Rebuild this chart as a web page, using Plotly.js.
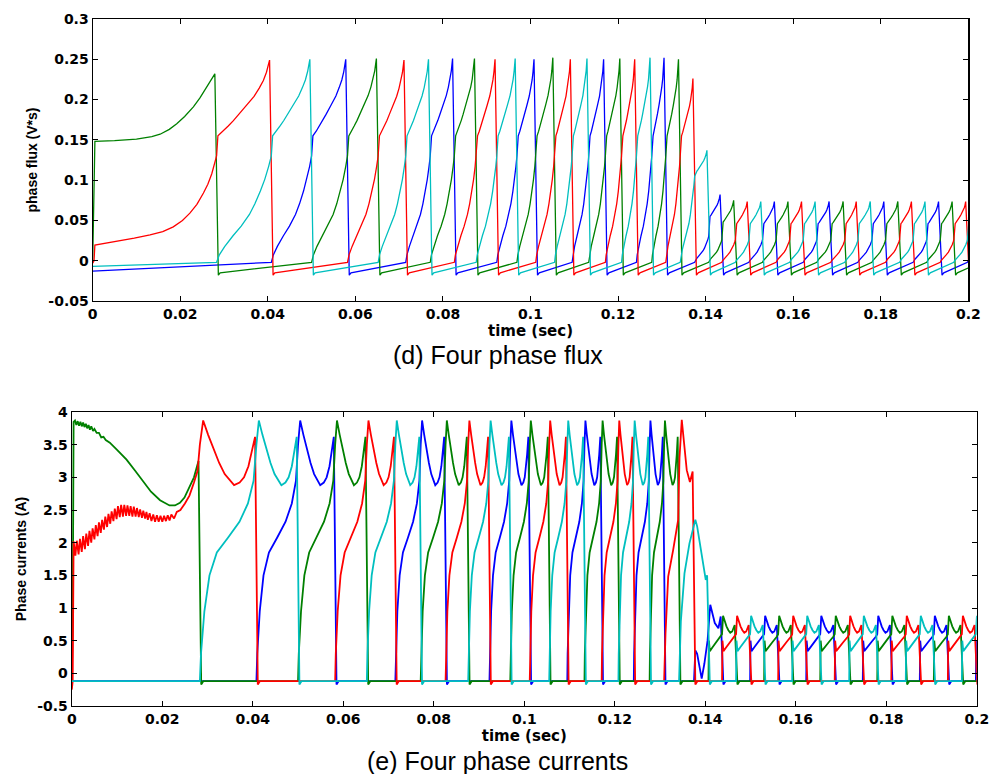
<!DOCTYPE html>
<html><head><meta charset="utf-8">
<script src="https://cdn.plot.ly/plotly-3.0.1.min.js"></script>
<style>html,body{margin:0;padding:0;background:#fff}#chart{width:989px;height:774px}</style>
</head><body><div id="chart"></div>
<script>
// ================= DATA =================
const phaseNames = ['Phase 1', 'Phase 2', 'Phase 3', 'Phase 4'];

// commutation instants (s): each one is the moment a phase is switched off
const eventTimes = [0.0283, 0.0408, 0.0500, 0.0582, 0.0652, 0.0715, 0.0771, 0.0826, 0.0876, 0.0923,
  0.0969, 0.1012, 0.1055, 0.1095, 0.1133, 0.1171, 0.1208, 0.1242, 0.1277, 0.1309,
  0.1342, 0.1375, 0.1407, 0.1437, 0.1468, 0.1499, 0.1530, 0.1561, 0.1592, 0.1623,
  0.1654, 0.1686, 0.1718, 0.1748, 0.1780, 0.1811, 0.1843, 0.1874, 0.1905, 0.1936,
  0.1967, 0.1998, 0.2029, 0.2060];
// which phase is switched off at each instant (0 = phase 1 ... 3 = phase 4)
const eventPhase = [1, 2, 3, 0, 1, 2, 3, 0, 1, 2, 3, 0, 1, 2, 3, 0, 1, 2, 3, 0,
  1, 2, 3, 0, 1, 2, 3, 0, 1, 2, 3, 0, 1, 2, 3, 0, 1, 2, 3, 0, 1, 2, 3, 0];
// peak flux (V*s) reached just before each switch-off
const fluxPeak = [0.232, 0.249, 0.250, 0.250, 0.251, 0.249, 0.250, 0.251, 0.251, 0.250,
  0.251, 0.250, 0.252, 0.250, 0.251, 0.250, 0.251, 0.250, 0.252, 0.252,
  0.250, 0.226, 0.137, 0.082, 0.075, 0.0735, 0.0735, 0.0735, 0.0735, 0.0735,
  0.0735, 0.0735, 0.0735, 0.0735, 0.0735, 0.0735, 0.0735, 0.0735, 0.0735, 0.0735,
  0.0735, 0.0735, 0.0735, 0.0735];
// flux at the mid-conduction commutation, just before and just after the step
const fluxKnee = [null, 0.13, 0.13, 0.13, 0.13, 0.13, 0.13, 0.13, 0.13, 0.13,
  0.13, 0.13, 0.13, 0.13, 0.13, 0.13, 0.13, 0.13, 0.13, 0.13,
  0.13, 0.13, 0.105, 0.03, 0.026, 0.026, 0.026, 0.026, 0.026, 0.026,
  0.026, 0.026, 0.026, 0.026, 0.026, 0.026, 0.026, 0.026, 0.026, 0.026,
  0.026, 0.026, 0.026, 0.026];
const fluxJump = [null, 0.155, 0.155, 0.155, 0.155, 0.155, 0.155, 0.155, 0.155, 0.155,
  0.155, 0.155, 0.155, 0.155, 0.155, 0.155, 0.155, 0.155, 0.155, 0.155,
  0.155, 0.155, 0.11, 0.055, 0.048, 0.046, 0.046, 0.046, 0.046, 0.046,
  0.046, 0.046, 0.046, 0.046, 0.046, 0.046, 0.046, 0.046, 0.046, 0.046,
  0.046, 0.046, 0.046, 0.046];
// current pulse type for each conduction interval
const currentShape = ['start', 'start', 'big', 'big', 'big', 'big', 'big', 'big', 'big', 'big',
  'big', 'big', 'big', 'big', 'big', 'big', 'big', 'big', 'big', 'big',
  'big', 'custom', 'custom', 'custom', 'small', 'small', 'small', 'small', 'small', 'small',
  'small', 'small', 'small', 'small', 'small', 'small', 'small', 'small', 'small', 'small',
  'small', 'small', 'small', 'small'];

// measured pulse profiles: [fraction of interval, value]
const fluxRiseShape = [[0, 0], [0.05, 0.07], [0.15, 0.15], [0.3, 0.25], [0.45, 0.34], [0.6, 0.45], [0.7, 0.55],
  [0.8, 0.67], [0.88, 0.78], [0.95, 0.9], [1, 1]];
const fluxTopShape = [[0, 0], [0.1, 0.06], [0.2, 0.13], [0.3, 0.2], [0.4, 0.28], [0.55, 0.4], [0.7, 0.52],
  [0.8, 0.63], [0.88, 0.73], [0.94, 0.84], [1, 1]];
const currentRiseBig = [[0, -0.12], [0.02, 0.3], [0.08, 0.95], [0.17, 1.5], [0.3, 1.85], [0.5, 2.08], [0.7, 2.32],
  [0.85, 2.6], [0.95, 2.95], [1, 3.5]];
const currentTopBig = [[0, 3.5], [0.06, 3.87], [0.15, 3.65], [0.25, 3.42], [0.35, 3.22], [0.45, 3.05], [0.62, 2.88],
  [0.72, 2.92], [0.8, 3.0], [0.88, 3.17], [0.93, 3.35], [1, 3.62]];
const currentRiseSmall = [[0, -0.12], [0.03, 0.5], [0.1, 0.34], [0.3, 0.4], [0.6, 0.48], [0.9, 0.56], [1, 0.6]];
const currentTopSmall = [[0, 0.6], [0.08, 0.88], [0.2, 0.79], [0.35, 0.72], [0.5, 0.66], [0.65, 0.62], [0.8, 0.64],
  [0.9, 0.68], [1, 0.74]];

// start-up transients [t, value]
const greenStartFlux = [[0, 0], [0.0002, 0.08], [0.0005, 0.148], [0.005, 0.149], [0.01, 0.151], [0.0135, 0.154],
  [0.0154, 0.157], [0.0175, 0.163], [0.0192, 0.17], [0.021, 0.179], [0.023, 0.191], [0.0245, 0.202],
  [0.0256, 0.212], [0.0268, 0.222], [0.0279, 0.232]];
const redStartFlux = [[0, -0.003], [0.0003, 0.0], [0.0005, 0.0195], [0.0055, 0.024], [0.0095, 0.028],
  [0.0131, 0.032], [0.016, 0.036], [0.0184, 0.042], [0.0205, 0.05], [0.0222, 0.059], [0.0238, 0.07],
  [0.0253, 0.084], [0.0263, 0.095], [0.0272, 0.108], [0.0278, 0.12], [0.0283, 0.13]];
const startFluxOther = [-0.013, null, null, -0.007];   // phase 1 and phase 4 at t = 0
const greenStartCurrent = [[0, -0.12], [0.0002, 0.8], [0.0004, 3.85], [0.0007, 3.87], [0.001, 3.8], [0.0013, 3.86],
  [0.0016, 3.79], [0.0019, 3.85], [0.0022, 3.78], [0.0025, 3.84], [0.0028, 3.77], [0.0031, 3.82], [0.0034, 3.75],
  [0.0037, 3.8], [0.004, 3.73], [0.0043, 3.78], [0.0047, 3.71], [0.005, 3.74], [0.0055, 3.68], [0.006, 3.68],
  [0.0065, 3.61], [0.007, 3.62], [0.0075, 3.57], [0.0084, 3.53], [0.01, 3.42], [0.0121, 3.27], [0.014, 3.1],
  [0.0158, 2.93], [0.0175, 2.78], [0.0195, 2.65], [0.0216, 2.57], [0.0228, 2.57], [0.0239, 2.61],
  [0.0249, 2.69], [0.0257, 2.8], [0.027, 3.0], [0.0276, 3.15], [0.028, 3.25]];
const redStartCurrent = [[0, -0.25], [0.0002, -0.12], [0.0004, 2.02], [0.0008, 1.8], [0.0011, 2.03], [0.0015, 1.82],
  [0.0018, 2.06], [0.0022, 1.86], [0.0025, 2.1], [0.0029, 1.9], [0.0032, 2.14], [0.0036, 1.95], [0.0039, 2.18],
  [0.0043, 2.0], [0.0046, 2.22], [0.005, 2.05], [0.0053, 2.27], [0.0057, 2.1], [0.006, 2.31], [0.0064, 2.15],
  [0.0067, 2.35], [0.0071, 2.2], [0.0074, 2.4], [0.0078, 2.24], [0.0081, 2.44], [0.0085, 2.29], [0.0088, 2.48],
  [0.0092, 2.33], [0.0095, 2.52], [0.0099, 2.36], [0.0102, 2.56], [0.0106, 2.39], [0.0109, 2.58], [0.0113, 2.4],
  [0.0116, 2.58], [0.012, 2.41], [0.0123, 2.57], [0.0127, 2.41], [0.013, 2.56], [0.0134, 2.4], [0.0137, 2.55],
  [0.0141, 2.4], [0.0144, 2.53], [0.0148, 2.39], [0.0151, 2.51], [0.0155, 2.38], [0.0158, 2.49], [0.0162, 2.37],
  [0.0165, 2.47], [0.0168, 2.35], [0.0172, 2.45], [0.0176, 2.33], [0.018, 2.43], [0.0184, 2.32], [0.0188, 2.42],
  [0.0192, 2.32], [0.0196, 2.41], [0.02, 2.32], [0.0204, 2.41], [0.0208, 2.33], [0.0212, 2.42], [0.0216, 2.34],
  [0.022, 2.43], [0.0226, 2.37], [0.0232, 2.47], [0.024, 2.5], [0.025, 2.6], [0.026, 2.72], [0.027, 2.92],
  [0.0278, 3.1], [0.0283, 3.5]];
// irregular pulses while the operating point changes (t, A)
const customCurrent = {
  21: [[0.1309, -0.12], [0.1312, 0.6], [0.1318, 1.48], [0.1329, 1.89], [0.134, 2.35], [0.1343, 3.3], [0.1348, 3.88],
       [0.1359, 3.11], [0.1366, 2.93], [0.1372, 3.09]],
  22: [[0.1342, -0.12], [0.1346, 0.8], [0.1354, 1.53], [0.1365, 1.99], [0.1373, 2.19], [0.1378, 2.35], [0.1382, 2.25],
       [0.1391, 1.89], [0.1401, 1.43], [0.1404, 1.5]],
  23: [[0.1375, -0.12], [0.1378, 0.35], [0.1382, 0.3], [0.1392, -0.08], [0.1398, 0.15], [0.1405, 0.5], [0.1408, 0.75],
       [0.1411, 1.05], [0.1421, 0.77], [0.1429, 0.69], [0.1434, 0.87]]
};
const fluxOffLevels = [-0.018, -0.015, -0.002];   // just after switch-off, settled, before next turn-on
const currentOffLevels = [-0.17, -0.12];

// axis ticks
const timeTicks = [0, 0.02, 0.04, 0.06, 0.08, 0.1, 0.12, 0.14, 0.16, 0.18, 0.2];
const timeTickText = ['0', '0.02', '0.04', '0.06', '0.08', '0.1', '0.12', '0.14', '0.16', '0.18', '0.2'];
const fluxTicks = [-0.05, 0, 0.05, 0.1, 0.15, 0.2, 0.25, 0.3];
const fluxTickText = ['-0.05', '0', '0.05', '0.1', '0.15', '0.2', '0.25', '0.3'];
const currentTicks = [-0.5, 0, 0.5, 1, 1.5, 2, 2.5, 3, 3.5, 4];
const currentTickText = ['-0.5', '0', '0.5', '1', '1.5', '2', '2.5', '3', '3.5', '4'];

// ================= BUILD SERIES =================
const E = eventTimes;
const dd = 0.0004, dc = 0.0003;

function buildPhase(p) {
  const fx = [], fy = [], cx = [], cy = [];
  const pf = (t, v) => { fx.push(t); fy.push(v); };
  const pc = (t, v) => { cx.push(t); cy.push(v); };
  const idx = [];
  for (let i = 0; i < E.length; i++) if (eventPhase[i] === p) idx.push(i);
  const first = idx[0];
  if (first >= 2) { pf(0, startFluxOther[p]); pc(0, currentOffLevels[1]); }
  for (const n of idx) {
    // ---- flux conduction ----
    if (n === 0) {
      greenStartFlux.forEach(q => pf(q[0], q[1]));
    } else {
      if (n === 1) {
        redStartFlux.forEach(q => pf(q[0], q[1]));
      } else {
        const a = E[n - 2], b = E[n - 1], k = fluxKnee[n];
        fluxRiseShape.forEach(q => pf(a + q[0] * (b - a), fluxOffLevels[2] + q[1] * (k - fluxOffLevels[2])));
      }
      const b0 = E[n - 1] + 0.0003, b1 = E[n] - dd, j = fluxJump[n], pk = fluxPeak[n];
      fluxTopShape.forEach(q => pf(b0 + q[0] * (b1 - b0), j + q[1] * (pk - j)));
    }
    // ---- current conduction ----
    const cs = currentShape[n];
    if (n === 0) {
      greenStartCurrent.forEach(q => pc(q[0], q[1]));
    } else if (cs === 'custom') {
      customCurrent[n].forEach(q => pc(q[0], q[1]));
    } else {
      const rise = cs === 'small' ? currentRiseSmall : currentRiseBig;
      const top = cs === 'small' ? currentTopSmall : currentTopBig;
      if (n === 1) {
        redStartCurrent.forEach(q => pc(q[0], q[1]));
      } else {
        const a = E[n - 2], b = E[n - 1];
        rise.forEach(q => pc(a + q[0] * (b - a), q[1]));
      }
      const b0 = E[n - 1], b1 = E[n] - dc;
      top.slice(1).forEach(q => pc(b0 + q[0] * (b1 - b0), q[1]));
    }
    // ---- switch-off and idle interval ----
    const next = (n + 2 < E.length) ? E[n + 2] : 0.21;
    pf(E[n] + dd, fluxOffLevels[0]); pf(E[n] + 2 * dd, fluxOffLevels[1]); pf(next, fluxOffLevels[2]);
    pc(E[n] + dc, currentOffLevels[0]); pc(E[n] + 2.5 * dc, currentOffLevels[1]); pc(next, currentOffLevels[1]);
  }
  return { fx, fy, cx, cy };
}

const colors = ['#0000ff', '#008000', '#ff0000', '#00bfbf'];
const traces = [];
const built = [0, 1, 2, 3].map(buildPhase);
built.forEach((s, p) => {
  traces.push({ x: s.fx, y: s.fy, type: 'scatter', mode: 'lines', name: phaseNames[p],
    line: { color: colors[p], width: 1.3 }, xaxis: 'x', yaxis: 'y', hoverinfo: 'skip' });
});
built.forEach((s, p) => {
  traces.push({ x: s.cx, y: s.cy, type: 'scatter', mode: 'lines', name: phaseNames[p],
    line: { color: colors[p], width: 1.8 }, xaxis: 'x2', yaxis: 'y2', hoverinfo: 'skip' });
});

// ================= LAYOUT =================
const tickFont = { family: 'DejaVu Sans', size: 14, color: '#000', weight: 'bold' };
function axis(extra) {
  return Object.assign({
    showline: true, linecolor: '#000', linewidth: 1.2, mirror: 'ticks',
    ticks: 'inside', ticklen: 5, tickwidth: 1, tickcolor: '#000',
    showgrid: false, zeroline: false, tickfont: tickFont, fixedrange: true,
    ticklabeloverflow: 'allow'
  }, extra);
}
const W = 989, H = 774;
const xTitleFont = { family: 'DejaVu Sans', size: 15, color: '#000', weight: 'bold' };
const yTitleFont = { family: 'Liberation Sans', size: 14, color: '#000', weight: 'bold' };
const layout = {
  width: W, height: H, margin: { l: 0, r: 0, t: 0, b: 0 },
  paper_bgcolor: '#fff', plot_bgcolor: '#fff', showlegend: false,
  xaxis: axis({ domain: [92.7 / W, 968.3 / W], range: [0, 0.2], anchor: 'y',
    tickmode: 'array', tickvals: timeTicks, ticktext: timeTickText,
    title: { text: 'time (sec)', font: xTitleFont, standoff: 0 } }),
  yaxis: axis({ domain: [1 - 301 / H, 1 - 19 / H], range: [-0.05, 0.3], anchor: 'x',
    tickmode: 'array', tickvals: fluxTicks, ticktext: fluxTickText,
    title: { text: 'phase flux (V*s)', font: yTitleFont, standoff: 7 } }),
  xaxis2: axis({ domain: [71.8 / W, 976.8 / W], range: [0, 0.2], anchor: 'y2',
    tickmode: 'array', tickvals: timeTicks, ticktext: timeTickText,
    title: { text: 'time (sec)', font: xTitleFont, standoff: 0 } }),
  yaxis2: axis({ domain: [1 - 706 / H, 1 - 412 / H], range: [-0.5, 4], anchor: 'x2',
    tickmode: 'array', tickvals: currentTicks, ticktext: currentTickText,
    title: { text: 'Phase currents (A)', font: yTitleFont, standoff: 7 } }),
  annotations: [
    { text: '(d) Four phase flux', xref: 'paper', yref: 'paper', x: 498 / W, y: 1 - 355 / H,
      xanchor: 'center', yanchor: 'middle', showarrow: false,
      font: { family: 'Liberation Sans', size: 25, color: '#000' } },
    { text: '(e) Four phase currents', xref: 'paper', yref: 'paper', x: 497 / W, y: 1 - 761 / H,
      xanchor: 'center', yanchor: 'middle', showarrow: false,
      font: { family: 'Liberation Sans', size: 25, color: '#000' } }
  ]
};
Plotly.newPlot('chart', traces, layout, { staticPlot: true, displayModeBar: false });
</script>
</body></html>
